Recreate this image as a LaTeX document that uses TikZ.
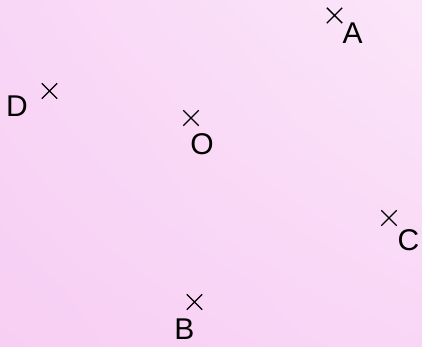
\documentclass[tikz,border=0pt]{standalone}
\usepackage{fontspec}
\setmainfont{Liberation Sans}
\usetikzlibrary{shapes.misc,shadings}
\definecolor{bgUL}{RGB}{248,214,246}
\definecolor{bgUR}{RGB}{251,230,249}
\definecolor{bgLL}{RGB}{247,207,244}
\definecolor{bgLR}{RGB}{249,214,246}
\tikzset{
  pt/.style={cross out, draw=black, line width=1.4pt, minimum size=14pt, inner sep=0pt},
  lbl/.style={inner sep=0pt, font=\fontsize{30}{30}\selectfont, text=black}
}
\begin{document}
\begin{tikzpicture}[x=1pt,y=-1pt]
\shade[upper left=bgUL, upper right=bgUR, lower left=bgLL, lower right=bgLR] (0,0) rectangle (422,347);
\useasboundingbox (0,0) rectangle (422,347);
\node[pt] (pA) at (334.5,15.5) {};
\node[lbl] (A) at (352.5,33) {A};
\node[pt] (pD) at (49.5,91) {};
\node[lbl] (D) at (17,106) {D};
\node[pt] (pO) at (191,118) {};
\node[lbl] (O) at (202,144.5) {O};
\node[pt] (pC) at (389,218) {};
\node[lbl] (C) at (408.5,240) {C};
\node[pt] (pB) at (194.5,302) {};
\node[lbl] (B) at (184.5,329) {B};
\end{tikzpicture}
\end{document}
